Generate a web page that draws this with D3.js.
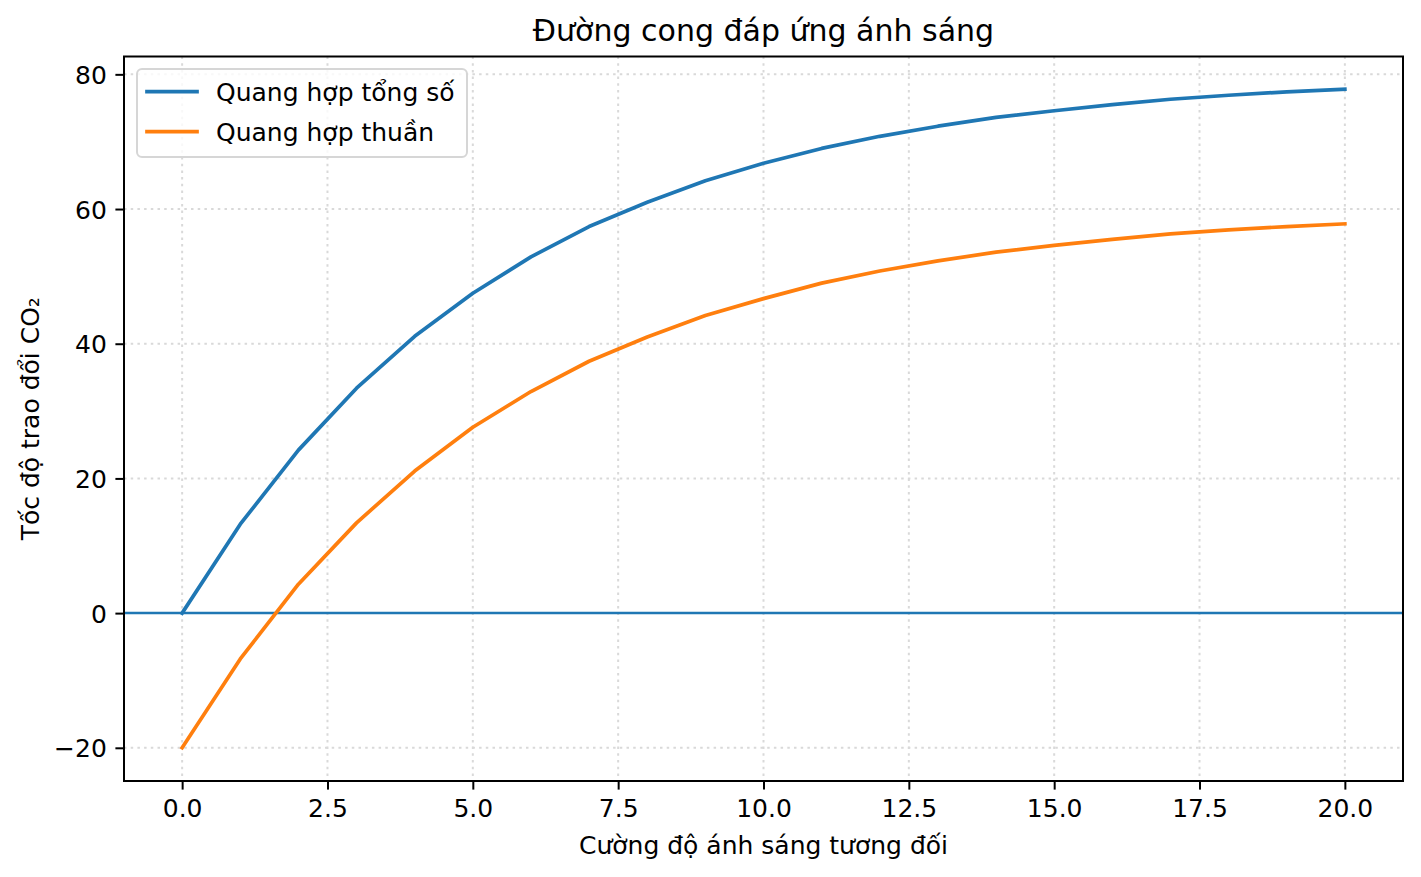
<!DOCTYPE html>
<meta charset="utf-8">
<script src="https://d3js.org/d3.v7.min.js"></script>
<body style="margin:0;background:#fff">
<svg></svg>
</body>
<script>

    var width = 1421;
    var height = 877;
    var margin = ({top: 56.5, right: 18, bottom: 96, left: 124});

    // cường độ ánh sáng (trục x)
    var lightLevels = [0, 1, 2, 3, 4, 5, 6, 7, 8, 9, 10, 11, 12, 13, 14, 15, 16, 17, 18, 19, 20];
    // quang hợp tổng số
    var grossValues = [0, 13.2, 24.2, 33.4, 41.1, 47.5, 52.9, 57.4, 61.0, 64.2, 66.8, 69.0, 70.8, 72.3, 73.6, 74.6, 75.5, 76.3, 76.9, 77.4, 77.8];
    // quang hợp thuần
    var netValues = [-20, -6.8, 4.3, 13.4, 21.1, 27.6, 32.9, 37.4, 41.0, 44.2, 46.7, 49.0, 50.8, 52.3, 53.6, 54.6, 55.5, 56.3, 56.9, 57.4, 57.8];

    var xTicks = [0, 2.5, 5, 7.5, 10, 12.5, 15, 17.5, 20];
    var yTicks = [-20, 0, 20, 40, 60, 80];
    var seriesNames = ["Quang hợp tổng số", "Quang hợp thuần"];
    var seriesColors = ["#1f77b4", "#ff7f0e"];

    var font = "'DejaVu Sans', sans-serif";
    var fs = 25;

    var x = d3.scaleLinear()
        .domain([-1, 21])
        .range([margin.left, width - margin.right]);

    var y = d3.scaleLinear()
        .domain([-24.93, 82.65])
        .range([height - margin.bottom, margin.top]);

    var svg = d3.select("svg")
        .attr("width", width)
        .attr("height", height)
        .attr("viewBox", [0, 0, width, height])
        .style("font-family", font);

    // lưới chấm
    svg.append("g")
        .selectAll("line")
        .data(xTicks)
        .join("line")
        .attr("x1", d => x(d)).attr("x2", d => x(d))
        .attr("y1", margin.top).attr("y2", height - margin.bottom)
        .attr("stroke", "#d9d9d9")
        .attr("stroke-width", 2)
        .attr("stroke-dasharray", "2.5,4.2");

    svg.append("g")
        .selectAll("line")
        .data(yTicks)
        .join("line")
        .attr("x1", margin.left).attr("x2", width - margin.right)
        .attr("y1", d => y(d)).attr("y2", d => y(d))
        .attr("stroke", "#d9d9d9")
        .attr("stroke-width", 2)
        .attr("stroke-dasharray", "2.5,4.2");

    // đường y = 0
    svg.append("line")
        .attr("x1", margin.left).attr("x2", width - margin.right)
        .attr("y1", y(0)).attr("y2", y(0))
        .attr("stroke", "#1f77b4")
        .attr("stroke-width", 2.5);

    var line = d3.line()
        .x((d, i) => x(lightLevels[i]))
        .y(d => y(d));

    [grossValues, netValues].forEach(function(vals, k) {
        svg.append("path")
            .datum(vals)
            .attr("d", line)
            .attr("fill", "none")
            .attr("stroke", seriesColors[k])
            .attr("stroke-width", 3.7)
            .attr("stroke-linejoin", "round")
            .attr("stroke-linecap", "square");
    });

    // trục
    const xAxis = (g) =>
        g.attr("transform", `translate(0,${height - margin.bottom})`)
         .call(d3.axisBottom(x).tickValues(xTicks).tickFormat(d3.format(".1f")).tickSize(8.6).tickPadding(8.6))
         .call(g => g.select(".domain").remove())
         .call(g => g.selectAll(".tick line").attr("stroke", "#000").attr("stroke-width", 2))
         .call(g => g.selectAll(".tick text")
            .attr("font-family", font)
            .attr("font-size", fs)
            .attr("fill", "#000")
            .attr("dy", null)
            .attr("y", 36));

    const yAxis = (g) =>
        g.attr("transform", `translate(${margin.left},0)`)
         .call(d3.axisLeft(y).tickValues(yTicks).tickFormat(d3.format("d")).tickSize(8.6).tickPadding(8.6))
         .call(g => g.select(".domain").remove())
         .call(g => g.selectAll(".tick line").attr("stroke", "#000").attr("stroke-width", 2))
         .call(g => g.selectAll(".tick text")
            .attr("font-family", font)
            .attr("font-size", fs)
            .attr("fill", "#000")
            .attr("dy", "0.36em"));

    svg.append("g").call(xAxis);
    svg.append("g").call(yAxis);

    // khung
    svg.append("rect")
        .attr("x", margin.left)
        .attr("y", margin.top)
        .attr("width", width - margin.right - margin.left)
        .attr("height", height - margin.bottom - margin.top)
        .attr("fill", "none")
        .attr("stroke", "#000")
        .attr("stroke-width", 2);

    // chú giải
    var legend = svg.append("g");
    legend.append("rect")
        .attr("x", 137).attr("y", 69)
        .attr("width", 330).attr("height", 88)
        .attr("rx", 5)
        .attr("fill", "#fff").attr("fill-opacity", 0.8)
        .attr("stroke", "#d6d6d6").attr("stroke-width", 2);

    var items = legend.selectAll("g.item")
        .data(seriesNames)
        .join("g")
        .attr("class", "item")
        .attr("transform", (d, i) => `translate(0,${91.7 + i * 40})`);

    items.append("line")
        .attr("x1", 147).attr("x2", 197)
        .attr("stroke", (d, i) => seriesColors[i])
        .attr("stroke-width", 3.7)
        .attr("stroke-linecap", "square");

    items.append("text")
        .attr("x", 216)
        .attr("y", 9.3)
        .attr("font-size", fs)
        .attr("fill", "#000")
        .text(d => d);

    // tiêu đề và nhãn trục
    svg.append("text")
        .attr("x", (margin.left + width - margin.right) / 2)
        .attr("y", 41)
        .attr("text-anchor", "middle")
        .attr("font-size", 30)
        .attr("fill", "#000")
        .text("Đường cong đáp ứng ánh sáng");

    svg.append("text")
        .attr("x", (margin.left + width - margin.right) / 2)
        .attr("y", 854)
        .attr("text-anchor", "middle")
        .attr("font-size", fs)
        .attr("fill", "#000")
        .text("Cường độ ánh sáng tương đối");

    svg.append("text")
        .attr("transform", `translate(38.5,${(margin.top + height - margin.bottom) / 2}) rotate(-90)`)
        .attr("text-anchor", "middle")
        .attr("font-size", fs)
        .attr("fill", "#000")
        .text("Tốc độ trao đổi CO₂");

</script>
